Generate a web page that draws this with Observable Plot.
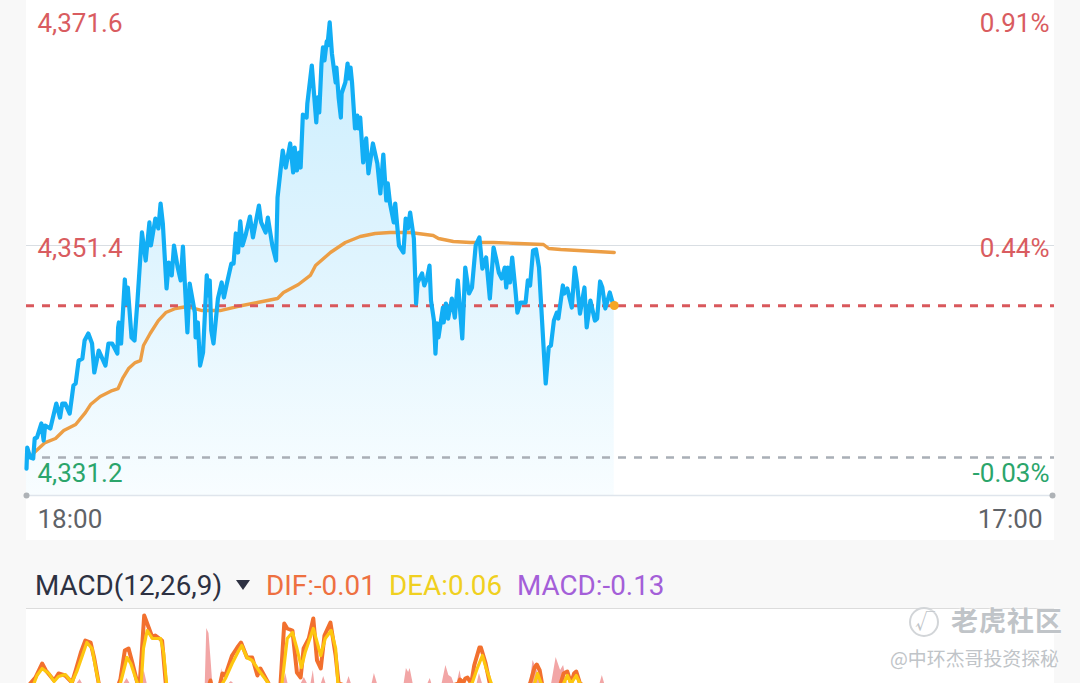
<!DOCTYPE html>
<html><head><meta charset="utf-8">
<script src="https://cdn.jsdelivr.net/npm/d3@7"></script>
<script src="https://cdn.jsdelivr.net/npm/@observablehq/plot@0.6"></script>
<style>
html,body{margin:0;padding:0;background:#f8f8f8;overflow:hidden}
#page{position:relative;width:1080px;height:683px;overflow:hidden;font-family:Roboto,sans-serif}
.panel{position:absolute;left:26px;width:1028px;background:#fff}
.abs{position:absolute;white-space:nowrap}
svg.plot,#page svg{background:transparent!important}
.hdr{font-size:27.8px;line-height:32px;top:570px}
.wm{font-family:"Noto Sans CJK SC";color:#c0c4c8;text-shadow:0 0 2px #fff,0 0 3px #fff}
</style></head><body>
<div id="page">
  <div class="panel" style="top:0;height:540px"></div>
  <div class="panel" style="top:609px;height:74px"></div>
  <div class="abs" style="left:26px;width:1028px;top:608px;height:1px;background:#dcdcdc"></div>
  <div id="main" class="abs" style="left:0;top:0"></div>
  <div id="macd" class="abs" style="left:0;top:609px"></div>
  <div class="abs hdr" style="left:35px;color:#2d3142">MACD(12,26,9)</div>
  <div class="abs" style="left:236px;top:580px;width:0;height:0;border-left:7.5px solid transparent;border-right:7.5px solid transparent;border-top:10px solid #2d3142"></div>
  <div class="abs hdr" style="left:266px;color:#ee7040">DIF:-0.01</div>
  <div class="abs hdr" style="left:389px;color:#f0d020">DEA:0.06</div>
  <div class="abs hdr" style="left:517px;color:#a45fd8">MACD:-0.13</div>
  <div class="abs wm" style="left:951px;top:601px;font-size:27px;line-height:38px;letter-spacing:1px;font-weight:700">老虎社区</div>
  <div class="abs wm" style="left:890px;top:646px;font-size:18.9px;line-height:24px">@中环杰哥投资探秘</div>
  <div class="abs" style="left:909px;top:607px;width:26px;height:26px;border:2px solid #d2d5d8;border-radius:50%"></div>
  <div class="abs wm" style="left:915px;top:606px;font-size:20px;line-height:30px">√</div>
</div>
<script>
// intraday prices, minutes after 18:00
const priceMinutes = [0,1,5,9,11,14,20,23,25,32,40,45,48,52,58,63,66,70,75,78,83,88,91,97,106,110,115,122,123,124,127,132,134,136,141,145,149,155,160,165,167,173,177,180,183,188,191,195,198,203,207,210,216,219,226,227,230,233,237,242,244,246,248,251,257,262,265,269,275,278,281,284,287,290,294,300,304,312,315,321,324,330,335,337,341,344,348,354,358,360,363,366,368,371,376,377,383,389,391,393,396,398,400,403,404,407,410,415,416,419,422,423,428,431,433,435,437,441,444,446,448,452,456,459,461,465,471,475,479,483,485,488,493,495,500,506,509,512,515,520,523,525,531,534,538,541,543,547,549,551,553,559,560,563,566,571,575,579,585,589,594,598,603,608,612,617,622,627,631,634,638,642,644,646,649,652,656,659,663,670,673,676,680,684,688,694,697,701,704,708,712,714,720,722,726,732,736,739,743,749,752,757,763,766,770,773,777,783,786,789];
const prices = [4331.37,4333.26,4332.36,4332.27,4334.07,4334.16,4335.42,4333.89,4335.24,4334.97,4337.21,4335.95,4337.21,4337.21,4336.31,4338.83,4339.01,4341.07,4341.25,4342.87,4343.50,4342.60,4340.00,4341.97,4340.62,4342.60,4342.60,4341.70,4344.04,4344.49,4342.60,4348.35,4346.19,4347.63,4343.14,4342.87,4346.46,4352.57,4350.05,4353.47,4351.40,4353.82,4352.93,4355.17,4353.38,4347.54,4349.87,4348.71,4351.40,4349.42,4348.26,4351.31,4343.59,4347.99,4345.38,4343.14,4344.49,4340.62,4341.79,4348.71,4346.91,4348.26,4343.77,4342.60,4346.64,4348.08,4346.73,4347.99,4349.78,4349.78,4352.48,4350.77,4353.56,4351.40,4352.30,4354.00,4352.12,4354.99,4353.47,4352.57,4353.91,4351.40,4350.05,4355.71,4358.14,4359.93,4358.40,4360.56,4357.96,4360.20,4358.14,4359.75,4358.40,4363.16,4362.89,4364.15,4367.56,4362.45,4364.69,4363.34,4367.74,4369.18,4368.01,4369.72,4369.36,4371.43,4368.64,4366.04,4367.38,4364.69,4362.89,4365.05,4366.04,4367.74,4366.40,4367.38,4366.04,4361.91,4363.07,4361.91,4362.89,4358.85,4361.01,4357.87,4358.76,4360.56,4358.76,4356.07,4359.57,4355.44,4356.97,4355.17,4353.47,4355.17,4351.40,4350.77,4353.82,4352.93,4354.36,4352.03,4346.19,4348.08,4348.89,4347.81,4348.53,4349.60,4346.46,4344.66,4341.70,4344.40,4343.14,4345.83,4344.49,4346.19,4344.84,4346.64,4344.93,4348.26,4343.05,4349.42,4347.09,4347.63,4351.40,4352.12,4349.33,4350.32,4346.64,4351.22,4350.05,4348.98,4348.44,4349.42,4347.63,4349.42,4348.08,4350.32,4347.63,4345.38,4346.28,4346.28,4348.26,4347.81,4350.95,4351.04,4349.42,4342.42,4339.01,4342.24,4342.42,4344.66,4345.38,4344.84,4347.81,4347.09,4347.54,4345.83,4349.42,4348.08,4345.29,4347.63,4344.04,4346.46,4344.66,4344.84,4348.17,4347.63,4345.74,4347.18,4346.46,4346.01];
// average price line
const avgMinutes = [9,25,39,50,66,79,86,99,115,123,129,137,146,153,157,166,177,187,200,216,236,260,283,310,337,345,365,381,388,408,428,448,468,488,515,546,553,573,596,627,660,694,701,717,789];
const avgPrices = [4332.72,4333.71,4334.07,4334.79,4335.33,4336.40,4337.12,4337.84,4338.38,4338.56,4339.46,4340.35,4340.89,4341.07,4342.42,4343.50,4344.66,4345.38,4345.74,4345.92,4345.56,4345.56,4345.92,4346.28,4346.64,4347.18,4347.90,4348.71,4349.60,4350.77,4351.67,4352.21,4352.48,4352.57,4352.57,4352.30,4352.03,4351.76,4351.67,4351.67,4351.58,4351.49,4351.13,4351.04,4350.77];
const leftTicks = [4371.6,4351.4,4331.2];
const leftLabels = ["4,371.6","4,351.4","4,331.2"];
const rightLabels = ["0.91%","0.44%","-0.03%"];
const tickColors = ["#d95c60","#d95c60","#2ba56b"];
const gridPrice = 4351.4;
const lastPrice = 4346.0;
const prevClose = 4332.37;
const axisPrice = 4328.95;
const sessionEnds = [0,1380];
const timeLabels = ["18:00","17:00"];
// MACD panel
const difMinutes = [5,12,21,26,37,43,52,61,66,73,79,86,91,97,110,124,126,132,137,142,149,150,152,158,164,169,173,182,187,191,242,247,250,260,263,267,276,283,288,296,303,310,314,325,335,341,346,350,357,363,368,372,379,385,390,395,400,408,415,419,500,580,582,586,589,592,597,601,608,610,616,622,650,676,682,685,689,692,705,717,721,726,731,735,738,743,789];
const difValues = [0.30,0.36,0.50,0.43,0.33,0.40,0.38,0.31,0.43,0.61,0.73,0.71,0.55,0.30,0.08,0.30,0.34,0.63,0.65,0.51,0.30,0.22,0.30,0.98,0.86,0.76,0.78,0.73,0.30,0.15,0.21,0.33,0.21,0.30,0.40,0.38,0.58,0.66,0.71,0.56,0.56,0.38,0.45,0.30,0.18,0.30,0.90,0.85,0.83,0.41,0.36,0.65,0.75,0.95,0.53,0.45,0.78,0.91,0.58,0.30,0.10,0.30,0.34,0.30,0.35,0.36,0.30,0.48,0.66,0.66,0.51,0.30,0.10,0.30,0.46,0.49,0.43,0.30,0.15,0.30,0.40,0.42,0.30,0.40,0.42,0.30,0.10];
const deaMinutes = [10,14,21,30,37,43,52,61,68,75,81,88,93,97,112,126,135,140,149,153,154,157,162,169,180,184,188,225,250,263,267,276,285,289,296,303,312,325,335,343,350,357,363,369,374,385,395,401,409,415,418,500,598,605,612,618,624,650,682,686,691,705,721,726,731,738,743,789];
const deaValues = [0.30,0.38,0.45,0.40,0.32,0.37,0.39,0.31,0.43,0.58,0.71,0.65,0.45,0.30,0.10,0.30,0.56,0.50,0.30,0.20,0.30,0.65,0.83,0.75,0.75,0.61,0.30,0.05,0.12,0.30,0.35,0.50,0.63,0.68,0.56,0.53,0.43,0.30,0.16,0.30,0.75,0.81,0.65,0.46,0.61,0.85,0.58,0.75,0.83,0.65,0.30,0.10,0.30,0.45,0.58,0.43,0.30,0.10,0.30,0.40,0.30,0.15,0.30,0.38,0.30,0.38,0.30,0.10];
const histMinutes = [68,72,75,131,135,139,154,158,162,240,242,245,248,250,260,262,265,272,275,278,345,348,351,369,373,377,382,385,387,396,399,402,430,433,436,464,467,471,507,510,513,515,519,539,542,544,558,563,567,571,574,578,582,585,605,608,612,676,680,683,692,705,711,717,721,726,770,773,776];
const histValues = [0.30,0.34,0.30,0.30,0.35,0.30,0.30,0.43,0.30,0.30,0.85,0.80,0.51,0.30,0.30,0.45,0.30,0.30,0.32,0.30,0.30,0.40,0.30,0.30,0.36,0.30,0.30,0.43,0.30,0.30,0.37,0.30,0.30,0.37,0.30,0.30,0.40,0.30,0.30,0.45,0.41,0.45,0.30,0.30,0.35,0.30,0.30,0.48,0.38,0.36,0.30,0.30,0.43,0.30,0.30,0.40,0.30,0.30,0.53,0.48,0.30,0.30,0.56,0.43,0.48,0.30,0.30,0.38,0.30];
const macdFloor = 0.30;

const pairs = (xs, ys) => xs.map((x, i) => ({x, y: ys[i]}));
const priceData = pairs(priceMinutes, prices);
const avgData = pairs(avgMinutes, avgPrices);
const labelData = leftTicks.map((y, i) => ({y, left: leftLabels[i], right: rightLabels[i], color: tickColors[i]}));
const xScale = {domain: [0, 1380], range: [26, 1054]};
const sessionStart = sessionEnds[0], sessionEnd = sessionEnds[1];
const span = {x1: sessionStart, x2: sessionEnd};

const gradient = () => {
  const s = d3.create("svg:defs");
  const g = s.append("linearGradient").attr("id", "fade").attr("x1", 0).attr("x2", 0).attr("y1", 0).attr("y2", 1);
  g.append("stop").attr("offset", "0%").attr("stop-color", "#cbeefe");
  g.append("stop").attr("offset", "50%").attr("stop-color", "#dff4fe");
  g.append("stop").attr("offset", "100%").attr("stop-color", "#f8fdff");
  return s.node();
};

const main = Plot.plot({
  width: 1080, height: 540, margin: 0,
  x: {...xScale, axis: null},
  y: {domain: [4331.2, 4371.6], range: [470, 20], axis: null},
  marks: [
    gradient,
    Plot.areaY(priceData, {x: "x", y1: axisPrice, y2: "y", fill: "url(#fade)"}),
    Plot.ruleY([gridPrice], {...span, stroke: "#d9dee3", strokeWidth: 1}),
    Plot.ruleY([axisPrice], {...span, stroke: "#dfe5ec", strokeWidth: 1.5}),
    Plot.ruleY([prevClose], {...span, stroke: "#a9afb6", strokeWidth: 2.5, strokeDasharray: "8,8"}),
    Plot.dot([sessionStart], {x: d => d, y: () => axisPrice, r: 3, fill: "#aeb2b6"}),
    Plot.dot([sessionEnd], {x: d => d, y: () => axisPrice, r: 3, fill: "#aeb2b6", dx: -2}),
    Plot.line(avgData, {x: "x", y: "y", stroke: "#ec9e45", strokeWidth: 3.4}),
    Plot.ruleY([lastPrice], {...span, stroke: "#d9585c", strokeWidth: 3, strokeDasharray: "8,8"}),
    Plot.line(priceData, {x: "x", y: "y", stroke: "#12aef5", strokeWidth: 4.2, strokeLinejoin: "round"}),
    Plot.dot([priceData[priceData.length - 1]], {x: "x", y: "y", r: 4.5, fill: "#f5a623"}),
    Plot.text(labelData, {x: () => sessionStart, y: "y", text: "left", fill: "color", dx: 11, dy: 3, textAnchor: "start", fontSize: 26, fontFamily: "Roboto"}),
    Plot.text(labelData, {x: () => sessionEnd, y: "y", text: "right", fill: "color", dx: -5, dy: 3, textAnchor: "end", fontSize: 26, fontFamily: "Roboto"}),
    Plot.text([sessionStart], {x: d => d, text: () => timeLabels[0], frameAnchor: "bottom", dy: -21, dx: 11, lineAnchor: "middle", textAnchor: "start", fill: "#5f6368", fontSize: 26, fontFamily: "Roboto"}),
    Plot.text([sessionEnd], {x: d => d, text: () => timeLabels[1], frameAnchor: "bottom", dy: -21, dx: -12, lineAnchor: "middle", textAnchor: "end", fill: "#5f6368", fontSize: 26, fontFamily: "Roboto"})
  ]
});
document.getElementById("main").append(main);

const macd = Plot.plot({
  width: 1080, height: 74, margin: 0,
  x: {...xScale, axis: null},
  y: {domain: [0.30, 1.04], range: [74, 0], axis: null},
  marks: [
    Plot.areaY(pairs(histMinutes, histValues), {x: "x", y1: macdFloor, y2: "y", fill: "#f2a6a6"}),
    Plot.line(pairs(difMinutes, difValues), {x: "x", y: "y", stroke: "#f2702e", strokeWidth: 4}),
    Plot.line(pairs(deaMinutes, deaValues), {x: "x", y: "y", stroke: "#fdc70f", strokeWidth: 3.2})
  ]
});
document.getElementById("macd").append(macd);
</script>
</body></html>
